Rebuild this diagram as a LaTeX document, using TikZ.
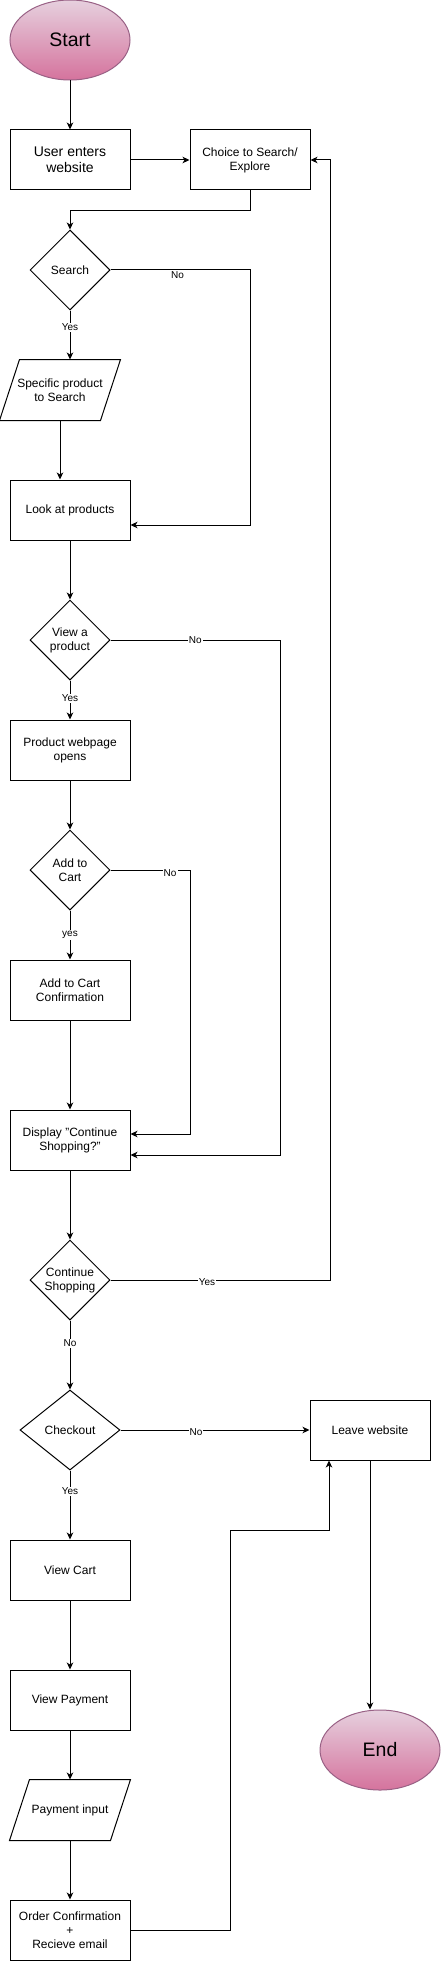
\documentclass[tikz,border=0pt]{standalone}
\usepackage{fontspec}
\setmainfont{Liberation Sans}
\usetikzlibrary{shapes.geometric,arrows.meta,calc}
\definecolor{pinkTop}{HTML}{E6D0DE}
\definecolor{pinkBot}{HTML}{D5739D}
\definecolor{pinkLine}{HTML}{996185}
\begin{document}
\begin{tikzpicture}[x=1pt,y=-1pt,line width=1pt,
 base/.style={font=\fontsize{12}{14}\selectfont, align=center, inner sep=0pt},
 proc/.style={base, draw, minimum width=120pt, minimum height=60pt},
 bigproc/.style={proc, font=\fontsize{14}{16}\selectfont},
 dec/.style={base, draw, diamond, minimum width=80pt, minimum height=80pt},
 term/.style={ellipse, draw=pinkLine, top color=pinkTop, bottom color=pinkBot, minimum width=120pt, minimum height=80pt, inner sep=0pt, font=\fontsize{19.5}{22}\selectfont},
 io/.style={base, minimum width=120pt, minimum height=60pt},
 arr/.style={draw, -{Stealth[length=7pt,width=6.5pt,inset=2pt]}},
 lbl/.style={fill=white, inner sep=1pt, font=\fontsize{10}{11}\selectfont},
]
\useasboundingbox (0,0) rectangle (441,1961);
% nodes
\node[term] (start) at (70,40) {Start};
\node[bigproc] (user) at (70,160) {User enters\\website};
\node[proc] (choice) at (250,160) {Choice to Search/\\Explore};
\node[dec] (search) at (70,270) {Search};
\node[io] (spec) at (60,390) {Specific product\\to Search};
\draw (spec.south west) -- ([xshift=20pt]spec.north west) -- (spec.north east) -- ([xshift=-20pt]spec.south east) -- cycle;
\node[proc] (look) at (70,510) {Look at products};
\node[dec] (view) at (70,640) {View a\\product};
\node[proc] (prod) at (70,750) {Product webpage\\opens};
\node[dec] (add) at (70,870) {Add to\\Cart};
\node[proc] (conf) at (70,990) {Add to Cart\\Confirmation};
\node[proc] (disp) at (70,1140) {Display "Continue\\Shopping?"};
\node[dec] (cont) at (70,1280) {Continue\\Shopping};
\node[dec, minimum width=100pt] (check) at (70,1430) {Checkout};
\node[proc] (leave) at (370,1430) {Leave website};
\node[proc] (vcart) at (70,1570) {View Cart};
\node[proc] (vpay) at (70,1700) {View Payment};
\node[io] (pin) at (70,1810) {Payment input};
\draw (pin.south west) -- ([xshift=20pt]pin.north west) -- (pin.north east) -- ([xshift=-20pt]pin.south east) -- cycle;
\node[proc] (order) at (70,1930) {Order Confirmation\\+\\Recieve email};
\node[term] (end) at (380,1750) {End};
% connectors
\draw[arr] (start) -- (user);
\draw[arr] (user) -- (choice);
\draw[arr] (choice.south) -- ++(0,20) -| (search.north);
\draw[arr] (search.east) -- node[lbl, yshift=-5pt, pos=0.48] {No} (250,270) |- ($(look.east)+(0,15)$);
\draw[arr] (search.south) -- node[lbl, pos=0.34] {Yes} (search.south |- spec.north);
\draw[arr] (spec.south) -- (spec.south |- look.north);
\draw[arr] (look.south) -- (view.north);
\draw[arr] (view.east) -- node[lbl] {No} (280,640) |- ($(disp.east)+(0,15)$);
\draw[arr] (view.south) -- node[lbl, pos=0.45] {Yes} (prod.north);
\draw[arr] (prod.south) -- (add.north);
\draw[arr] (add.east) -- node[lbl, pos=0.75, yshift=-3pt] {No} (190,870) |- ($(disp.east)+(0,-6)$);
\draw[arr] (add.south) -- node[lbl] {yes} (conf.north);
\draw[arr] (conf.south) -- (disp.north);
\draw[arr] (disp.south) -- (cont.north);
\draw[arr] (cont.east) -- node[lbl, pos=0.44, yshift=-2pt] {Yes} (330,1280) |- (choice.east);
\draw[arr] (cont.south) -- node[lbl, pos=0.33] {No} (check.north);
\draw[arr] (check.east) -- node[lbl, pos=0.4, yshift=-2pt] {No} (leave.west);
\draw[arr] (check.south) -- node[lbl, pos=0.3] {Yes} (vcart.north);
\draw[arr] (vcart.south) -- (vpay.north);
\draw[arr] (vpay.south) -- (pin.north);
\draw[arr] (pin.south) -- (order.north);
\draw[arr] (order.east) -| (230,1530) -| ($(leave.south)+(-41,0)$);
\draw[arr] (leave.south) -- (leave.south |- end.north);
\end{tikzpicture}
\end{document}
